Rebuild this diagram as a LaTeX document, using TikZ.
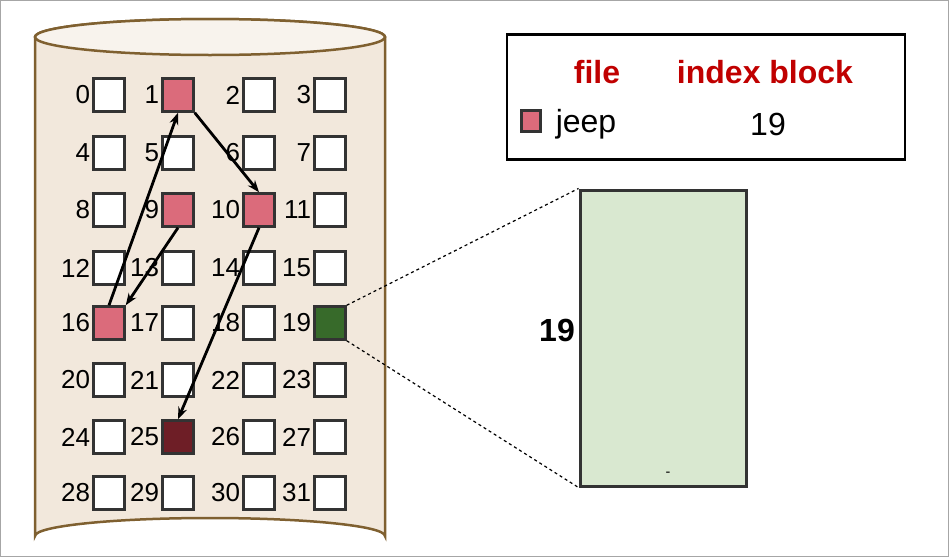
\documentclass[tikz,border=0pt]{standalone}
\usepackage{fontspec}
\setmainfont{Liberation Sans}
\usetikzlibrary{arrows.meta,positioning,calc}
\definecolor{drum}{HTML}{F2E8DC}
\definecolor{drumline}{HTML}{7F6030}
\definecolor{used}{HTML}{DB6B7B}
\definecolor{idx}{HTML}{376A2A}
\definecolor{last}{HTML}{6E1E26}
\definecolor{head}{HTML}{C00000}
\definecolor{idxfill}{HTML}{D9E8D0}
\tikzset{
  blk/.style={draw=black!80, line width=2.5pt, fill=white, minimum width=31pt, minimum height=33pt, inner sep=0pt},
  num/.style={font=\fontsize{26}{26}\selectfont, anchor=east, inner sep=1pt},
  link/.style={-{Stealth[length=12pt,width=9pt]}, line width=2.8pt},
}
\begin{document}
\begin{tikzpicture}[x=1pt,y=-1pt]
\useasboundingbox (0,0) rectangle (949,557);
\draw[gray!70, line width=1.5pt] (0.5,0.5) rectangle (948.5,556.5);

% disk drum
\draw[drumline, line width=2.5pt, fill=drum]
  (35,37) -- (35,536) arc[start angle=180, end angle=360, x radius=175, y radius=18]
  -- (385,37) arc[start angle=0, end angle=-180, x radius=175, y radius=18] -- cycle;
\draw[drumline, line width=2.5pt, fill=drum!50] (210,37) ellipse[x radius=175, y radius=18];

% blocks
\foreach \r/\yy in {0/95,1/153,2/210,3/268,4/323,5/380,6/437,7/493}{
  \foreach \c/\xx in {0/109,1/178,2/259,3/330}{
    \pgfmathtruncatemacro{\n}{4*\r+\c}
    \node[blk] (b\n) at (\xx,\yy) {};
    \node[num] at ($(b\n.west)+(-1,0)$) {\n};
  }
}
\foreach \n in {1,9,10,16}{\node[blk, fill=used] at (b\n) {};}
\node[blk, fill=idx] at (b19) {};
\node[blk, fill=last] at (b25) {};

\draw[link] (b16.north) -- (b1.south);
\draw[link] (b1.south east) -- (b10.north);
\draw[link] (b9.south) -- (b16.north east);
\draw[link] (b10.south) -- (b25.north);

% directory
\node[draw=black, line width=2.2pt, minimum width=398pt, minimum height=125pt] (dir) at (706,97) {};
\node[text=head, font=\bfseries\fontsize{32}{32}\selectfont] (fh) at (597,72) {file};
\node[text=head, font=\bfseries\fontsize{32}{32}\selectfont] (ih) at (765,72) {index block};
\node[blk, fill=used, minimum width=19pt, minimum height=21pt] (fs) at (531,121) {};
\node[font=\fontsize{32}{32}\selectfont] (jeep) at (586,124) {jeep};
\node[font=\fontsize{32}{32}\selectfont] (ib) at (768,124) {19};

% index block
\node[draw=black!80, line width=3pt, fill=idxfill, minimum width=166pt, minimum height=296pt] (ix) at (663,338) {};
\node[font=\bfseries\fontsize{32}{32}\selectfont] (il) at (557,330) {19};
\node[font=\Large] (dash) at (668,474) {-};
\draw[dashed, line width=1.2pt] (b19.north east) -- (ix.north west);
\draw[dashed, line width=1.2pt] (b19.south east) -- (ix.south west);
\end{tikzpicture}
\end{document}
